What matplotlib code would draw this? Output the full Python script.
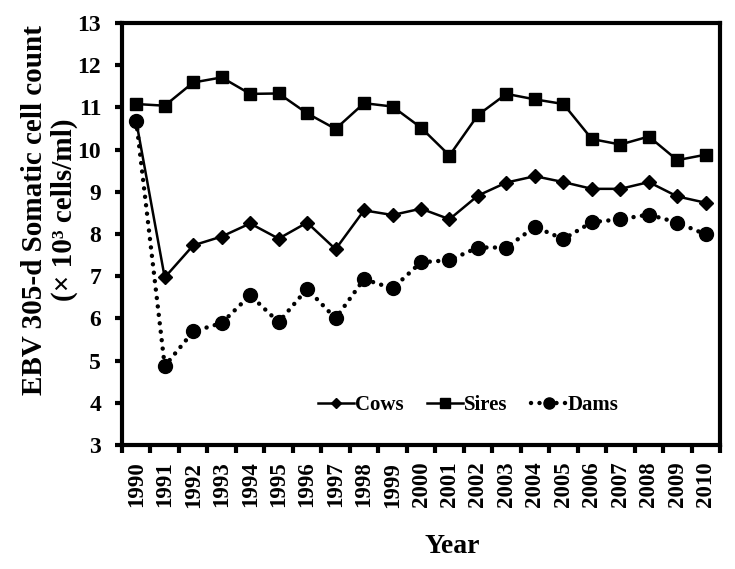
import matplotlib
matplotlib.use("Agg")
import matplotlib.pyplot as plt
import numpy as np

years = [str(y) for y in range(1990, 2011)]
cows = [10.67, 6.97, 7.73, 7.94, 8.25, 7.89, 8.27, 7.64, 8.56, 8.45, 8.60,
        8.35, 8.91, 9.22, 9.37, 9.23, 9.07, 9.07, 9.23, 8.89, 8.74]
sires = [11.08, 11.04, 11.59, 11.71, 11.32, 11.33, 10.86, 10.49, 11.10, 11.02, 10.52,
         9.86, 10.82, 11.32, 11.19, 11.08, 10.25, 10.12, 10.31, 9.75, 9.88]
dams = [10.68, 4.87, 5.69, 5.89, 6.55, 5.91, 6.70, 6.00, 6.93, 6.71, 7.33,
        7.38, 7.68, 7.68, 8.17, 7.88, 8.28, 8.35, 8.46, 8.27, 7.99]

plt.rcParams['font.family'] = ['Liberation Serif', 'DejaVu Serif']
plt.rcParams['font.weight'] = 'bold'

fig = plt.figure(figsize=(7.35, 5.69), dpi=100)
ax = fig.add_axes([0.166, 0.2179, 0.8136, 0.7417])

x = np.arange(len(years))
ax.plot(x, cows, color='black', lw=1.8, marker='D', ms=7.5, label='Cows')
ax.plot(x, sires, color='black', lw=1.8, marker='s', ms=9, label='Sires')
ax.plot(x, dams, color='black', lw=3.2, linestyle=(0, (0.01, 1.9)),
        dash_capstyle='round', marker='o', ms=10, label='Dams')

ax.set_xlim(-0.5, len(years) - 0.5)
ax.set_ylim(3, 13)
ax.set_yticks(range(3, 14))
ax.set_xticks(x)
ax.set_xticklabels(years, rotation=90, fontsize=16.5, fontweight='bold')
ax.set_xticks(np.arange(-0.5, len(years), 1.0), minor=True)
ax.tick_params(axis='x', which='major', length=0, pad=12)
ax.tick_params(axis='x', which='minor', length=6, width=3, direction='out')
ax.tick_params(axis='y', length=5, width=3, direction='out', labelsize=17, pad=10)
for lab in ax.get_yticklabels():
    lab.set_fontweight('bold')
for sp in ax.spines.values():
    sp.set_linewidth(3)

ax.set_ylabel('EBV 305-d Somatic cell count\n(× 10³ cells/ml)',
              fontsize=21, fontweight='bold', linespacing=1.1)
ax.yaxis.set_label_coords(-0.074, 0.557)
ax.set_xlabel('Year', fontsize=20, fontweight='bold')
ax.xaxis.set_label_coords(0.552, -0.212)

leg = ax.legend(loc='center', bbox_to_anchor=(0.579, 0.095), ncol=3, frameon=False,
                fontsize=15, handlelength=1.7, handletextpad=0.05, columnspacing=1.15)
for t in leg.get_texts():
    t.set_fontweight('bold')
for h, s in zip(leg.legend_handles, [5.5, 7.5, 8]):
    h.set_markersize(s)

fig.savefig('out.png', dpi=100)
